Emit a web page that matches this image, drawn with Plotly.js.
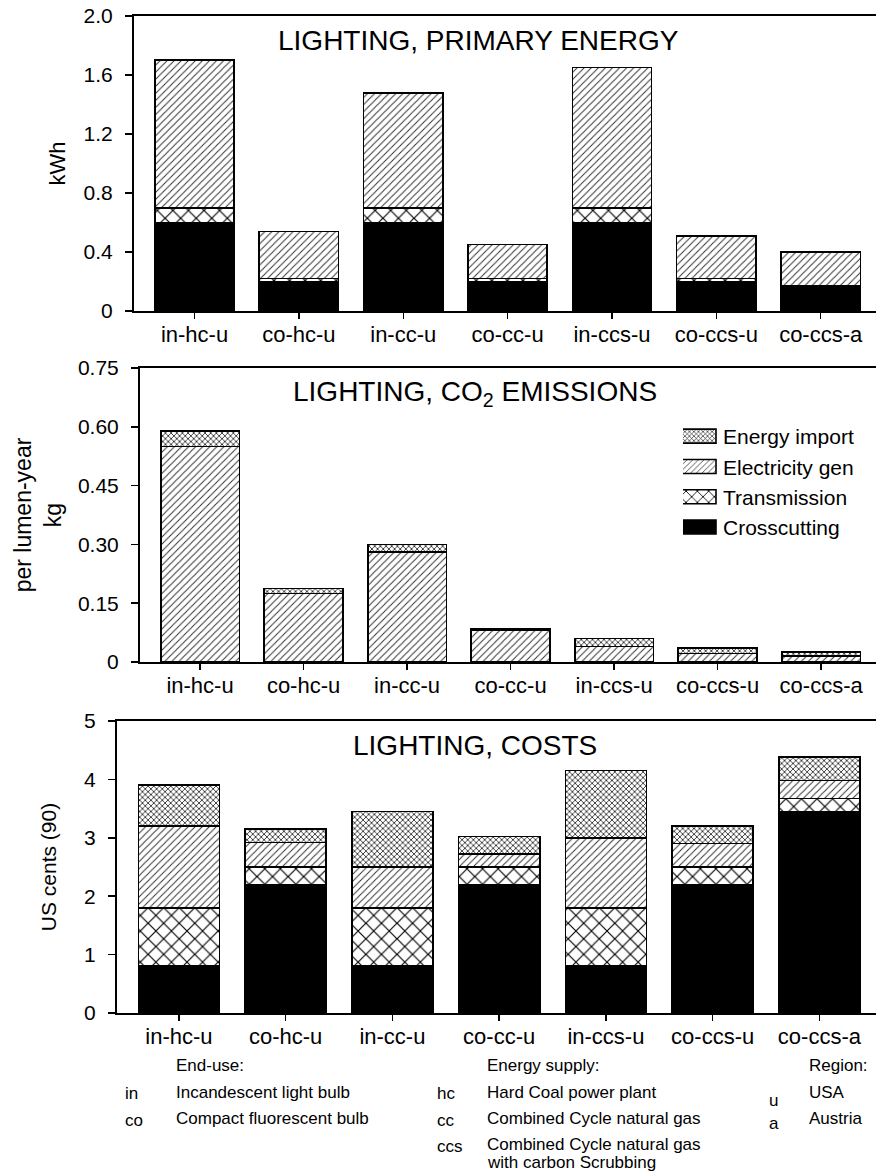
<!DOCTYPE html>
<html>
<head>
<meta charset="utf-8">
<script src="https://cdn.plot.ly/plotly-3.0.1.min.js"></script>
<style>
html,body{margin:0;padding:0;background:#fff;}
#chart{width:876px;height:1174px;}
</style>
</head>
<body>
<div id="chart"></div>
<script>
// ---------- DATA ----------
const categories = ['in-hc-u','co-hc-u','in-cc-u','co-cc-u','in-ccs-u','co-ccs-u','co-ccs-a'];
const seriesNames = ['Crosscutting','Transmission','Electricity gen','Energy import'];

// Primary energy (kWh per lumen-year)
const energyCrosscutting   = [0.60, 0.20, 0.60, 0.20, 0.60, 0.20, 0.17];
const energyTransmission   = [0.10, 0.02, 0.10, 0.02, 0.10, 0.02, 0.00];
const energyElectricityGen = [1.00, 0.32, 0.78, 0.23, 0.95, 0.29, 0.23];
const energyImport         = [0, 0, 0, 0, 0, 0, 0];

// CO2 emissions (kg per lumen-year)
const co2Crosscutting   = [0, 0, 0, 0, 0, 0, 0];
const co2Transmission   = [0, 0, 0, 0, 0, 0, 0];
const co2ElectricityGen = [0.550, 0.175, 0.280, 0.080, 0.040, 0.022, 0.015];
const co2Import         = [0.040, 0.013, 0.020, 0.004, 0.020, 0.013, 0.010];

// Costs (US cents (90) per lumen-year)
const costCrosscutting   = [0.80, 2.20, 0.80, 2.20, 0.80, 2.20, 3.45];
const costTransmission   = [1.00, 0.30, 1.00, 0.30, 1.00, 0.30, 0.22];
const costElectricityGen = [1.40, 0.42, 0.70, 0.22, 1.20, 0.40, 0.31];
const costImport         = [0.70, 0.23, 0.95, 0.30, 1.15, 0.30, 0.40];

const energyTicks = [0, 0.4, 0.8, 1.2, 1.6, 2.0];
const energyTickText = ['0','0.4','0.8','1.2','1.6','2.0'];
const co2Ticks = [0, 0.15, 0.30, 0.45, 0.60, 0.75];
const co2TickText = ['0','0.15','0.30','0.45','0.60','0.75'];
const costTicks = [0, 1, 2, 3, 4, 5];
const costTickText = ['0','1','2','3','4','5'];

// ---------- STYLE ----------
const FONT = 'Liberation Sans, Arial, Helvetica, sans-serif';
const W = 876, H = 1174;
const styles = {
  'Crosscutting':    {rank:4, color:'#000000', pattern:{shape:''}},
  'Transmission':    {rank:3, color:'#ffffff', pattern:{shape:'x', size:11, solidity:0.2, fgcolor:'#000', bgcolor:'#fff', fillmode:'replace'}},
  'Electricity gen': {rank:2, color:'#ffffff', pattern:{shape:'/', size:5, solidity:0.2, fgcolor:'#333', bgcolor:'#fff', fillmode:'replace'}},
  'Energy import':   {rank:1, color:'#ffffff', pattern:{shape:'x', size:4, solidity:0.35, fgcolor:'#111', bgcolor:'#fff', fillmode:'replace'}}
};

const panels = [
  {x:'x', y:'y', data:[energyCrosscutting, energyTransmission, energyElectricityGen, energyImport], legend:false},
  {x:'x2', y:'y2', data:[co2Crosscutting, co2Transmission, co2ElectricityGen, co2Import], legend:true},
  {x:'x3', y:'y3', data:[costCrosscutting, costTransmission, costElectricityGen, costImport], legend:false}
];

const traces = [];
panels.forEach(p => {
  seriesNames.forEach((name, i) => {
    const st = styles[name];
    traces.push({
      type:'bar', name:name, x:categories, y:p.data[i],
      xaxis:p.x, yaxis:p.y,
      showlegend:p.legend, legendrank:st.rank,
      marker:{color:st.color, pattern:st.pattern, line:{color:'#000', width:1.6}},
      hoverinfo:'x+y+name'
    });
  });
});

function px2x(px){ return px / W; }
function px2y(py){ return 1 - py / H; }

const xBase = {
  type:'category', range:[-0.58, 6.53], showline:true, linecolor:'#000', linewidth:2,
  mirror:true, ticks:'outside', ticklen:6, tickwidth:1.5, tickcolor:'#000',
  tickfont:{family:FONT, size:22, color:'#000'}, showgrid:false, zeroline:false,
  ticklabelstandoff:-3, fixedrange:true
};
const yBase = {
  showline:true, linecolor:'#000', linewidth:2, ticks:'outside', ticklen:7, tickwidth:1.5,
  tickcolor:'#000', tickfont:{family:FONT, size:21, color:'#000'}, showgrid:false,
  zeroline:false, ticklabelstandoff:8, fixedrange:true
};

const layout = {
  width:W, height:H, paper_bgcolor:'#fff', plot_bgcolor:'#fff',
  margin:{l:0, r:0, t:0, b:0},
  barmode:'stack', bargap:0.24,
  font:{family:FONT, color:'#000'},
  showlegend:true,
  legend:{x:px2x(683), y:px2y(416), xanchor:'left', yanchor:'top', traceorder:'normal',
          font:{family:FONT, size:21, color:'#000'}, bgcolor:'rgba(0,0,0,0)'},
  xaxis:Object.assign({}, xBase, {domain:[px2x(134), 1], anchor:'y'}),
  yaxis:Object.assign({}, yBase, {domain:[px2y(311), px2y(16)], anchor:'x', range:[0, 2.0],
        tickvals:energyTicks, ticktext:energyTickText,
        title:{text:'kWh', font:{family:FONT, size:22, color:'#000'}, standoff:12}}),
  xaxis2:Object.assign({}, xBase, {domain:[px2x(140), 1], anchor:'y2'}),
  yaxis2:Object.assign({}, yBase, {domain:[px2y(662), px2y(368)], anchor:'x2', range:[0, 0.75],
        tickvals:co2Ticks, ticktext:co2TickText,
        title:{text:'per lumen-year<br>kg', font:{family:FONT, size:23, color:'#000'}, standoff:10}}),
  xaxis3:Object.assign({}, xBase, {domain:[px2x(117), 1], anchor:'y3'}),
  yaxis3:Object.assign({}, yBase, {domain:[px2y(1013), px2y(721)], anchor:'x3', range:[0, 5],
        tickvals:costTicks, ticktext:costTickText,
        title:{text:'US cents (90)', font:{family:FONT, size:21, color:'#000'}, standoff:22}}),
  annotations:[]
};

const titleFont = {family:FONT, size:28, color:'#000'};
layout.annotations.push(
  {text:'LIGHTING, PRIMARY ENERGY', x:px2x(478), y:px2y(40), xref:'paper', yref:'paper', showarrow:false, xanchor:'center', yanchor:'middle', font:titleFont},
  {text:'LIGHTING, CO<sub>2</sub> EMISSIONS', x:px2x(475), y:px2y(393), xref:'paper', yref:'paper', showarrow:false, xanchor:'center', yanchor:'middle', font:titleFont},
  {text:'LIGHTING, COSTS', x:px2x(475), y:px2y(745), xref:'paper', yref:'paper', showarrow:false, xanchor:'center', yanchor:'middle', font:titleFont}
);

// Footer key
const footFont = {family:FONT, size:17, color:'#000'};
const footer = [
  ['End-use:', 174, 1065], ['in', 123, 1093], ['Incandescent light bulb', 174, 1092],
  ['co', 123, 1120], ['Compact fluorescent bulb', 174, 1118],
  ['Energy supply:', 485, 1065], ['hc', 435, 1093], ['Hard Coal power plant', 485, 1092],
  ['cc', 435, 1120], ['Combined Cycle natural gas', 485, 1118],
  ['ccs', 435, 1146], ['Combined Cycle natural gas', 485, 1144], ['with carbon Scrubbing', 485, 1162],
  ['Region:', 807, 1065], ['u', 767, 1100], ['USA', 807, 1092], ['a', 767, 1123], ['Austria', 807, 1118]
];
footer.forEach(f => layout.annotations.push({
  text:f[0], x:px2x(f[1]), y:px2y(f[2]), xref:'paper', yref:'paper', showarrow:false,
  xanchor:'left', yanchor:'middle', font:footFont
}));

Plotly.newPlot('chart', traces, layout, {displayModeBar:false, staticPlot:true}).then(gd => {
  // Widen the legend swatches to wide rectangles like the original key
  const items = gd.querySelectorAll('.legend .traces');
  items.forEach(item => {
    const path = item.querySelector('.legendpoints path');
    const text = item.querySelector('.legendtext');
    if (!path || !text) return;
    const r = path.getBoundingClientRect();
    const t = text.getBoundingClientRect();
    const cx = (r.left + r.right) / 2;
    const desired = t.left - 7 - 21.5;
    const dx = desired - cx;
    path.setAttribute('d', 'M' + (dx + 21.5) + ',7H' + (dx - 21.5) + 'V-7H' + (dx + 21.5) + 'Z');
  });
});
</script>
</body>
</html>
